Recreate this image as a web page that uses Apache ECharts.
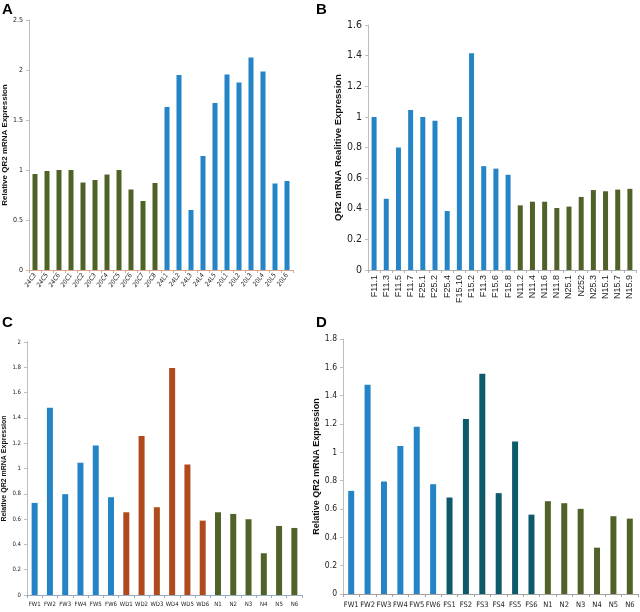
<!DOCTYPE html>
<html><head><meta charset="utf-8">
<script src="https://cdn.jsdelivr.net/npm/echarts@6/dist/echarts.min.js"></script>
<style>html,body{margin:0;padding:0;background:#fff}#c{width:640px;height:612px}</style>
</head><body><div id="c"></div>
<script>
// Panel A
const catsA = ['24C3','24C5','24C6','20C1','20C2','20C3','20C4','20C5','20C6','20C7','20C8','24L1','24L2','24L3','24L4','24L5','20L1','20L2','20L3','20L4','20L5','20L6'];
const valsA = [0.96,0.99,1.0,1.0,0.875,0.90,0.955,1.0,0.805,0.69,0.87,1.63,1.95,0.60,1.14,1.67,1.955,1.875,2.125,1.985,0.865,0.89];
const groupsA = [11, 11];
// Panel B
const catsB = ['F11.1','F11.3','F11.5','F11.7','F25.1','F25.2','F25.4','F15.10','F15.2','F11.3','F15.6','F15.8','N11.2','N11.4','N11.6','N11.8','N25.1','N252','N25.3','N15.1','N15.7','N15.9'];
const valsB = [1.0,0.465,0.80,1.045,1.0,0.975,0.385,1.0,1.415,0.678,0.662,0.622,0.422,0.446,0.446,0.405,0.414,0.477,0.522,0.514,0.525,0.53];
const groupsB = [12, 10];
// Panel C
const catsC = ['FW1','FW2','FW3','FW4','FW5','FW6','WD1','WD2','WD3','WD4','WD5','WD6','N1','N2','N3','N4','N5','N6'];
const valsC = [0.728,1.48,0.797,1.045,1.182,0.773,0.654,1.256,0.694,1.794,1.032,0.588,0.654,0.641,0.599,0.33,0.546,0.53];
const groupsC = [6, 6, 6];
// Panel D
const catsD = ['FW1','FW2','FW3','FW4','FW5','FW6','FS1','FS2','FS3','FS4','FS5','FS6','N1','N2','N3','N4','N5','N6'];
const valsD = [0.728,1.477,0.794,1.044,1.18,0.775,0.681,1.235,1.555,0.712,1.077,0.56,0.655,0.641,0.601,0.327,0.549,0.532];
const groupsD = [6, 6, 6];
const ticksA = {min:0, max:2.5, interval:0.5};
const ticksB = {min:0, max:1.6, interval:0.2};
const ticksC = {min:0, max:2, interval:0.2};
const ticksD = {min:0, max:1.8, interval:0.2};

const BLUE='#2484c6', GREEN='#4f6228', ORANGE='#b04a1c', TEAL='#0d5a6b';
const NARROW = '"DejaVu Sans Condensed","Liberation Sans Narrow","Liberation Sans",sans-serif';

function colored(vals, groups, colors){
  const out=[]; let gi=0, cnt=0;
  vals.forEach(v=>{ while(cnt>=groups[gi]){gi++;cnt=0;} out.push({value:v,itemStyle:{color:colors[gi]}}); cnt++; });
  return out;
}

const panels = [
  {grid:{left:29,top:20,width:264,height:250}, cats:catsA, vals:valsA, groups:groupsA, colors:[GREEN,BLUE], ticks:ticksA,
   name:'Relative QR2 mRNA Expression', nameSize:8, nameGap:20, ySize:7, yFont:NARROW,
   xLab:{rotate:55, fontSize:6.5, fontFamily:NARROW, margin:4, fontStyle:'italic'}, barW:5, xLine:'#d9a68c'},
  {grid:{left:368,top:25,width:268,height:245}, cats:catsB, vals:valsB, groups:groupsB, colors:[BLUE,GREEN], ticks:ticksB,
   name:'QR2 mRNA Realitive Expression', nameSize:9.5, nameGap:24, ySize:10.5, yFont:NARROW,
   xLab:{rotate:90, fontSize:9, fontFamily:'"Liberation Sans",Arial,sans-serif', margin:5}, barW:5, xLine:'#b0b0b0'},
  {grid:{left:26,top:342,width:276,height:253}, cats:catsC, vals:valsC, groups:groupsC, colors:[BLUE,ORANGE,GREEN], ticks:ticksC,
   name:'Relative QR2 mRNA Expression', nameSize:7, nameGap:19, ySize:6, yFont:NARROW,
   xLab:{rotate:0, fontSize:6, fontFamily:NARROW, margin:6}, barW:6, xLine:'#9aaac0'},
  {grid:{left:343,top:339,width:295,height:255}, cats:catsD, vals:valsD, groups:groupsD, colors:[BLUE,TEAL,GREEN], ticks:ticksD,
   name:'Relative QR2 mRNA Expression', nameSize:9, nameGap:19, ySize:8.5, yFont:NARROW,
   xLab:{rotate:0, fontSize:7.5, fontFamily:NARROW, margin:7}, barW:6, xLine:'#a0a0a0'}
];

const option = {animation:false, backgroundColor:'#fff', grid:[], xAxis:[], yAxis:[], series:[],
  graphic:[
    {type:'text',left:2,top:2,style:{text:'A',font:'bold 15px "Liberation Sans",Arial,sans-serif',fill:'#000'}},
    {type:'text',left:316,top:2,style:{text:'B',font:'bold 15px "Liberation Sans",Arial,sans-serif',fill:'#000'}},
    {type:'text',left:2,top:315,style:{text:'C',font:'bold 15px "Liberation Sans",Arial,sans-serif',fill:'#000'}},
    {type:'text',left:316,top:315,style:{text:'D',font:'bold 15px "Liberation Sans",Arial,sans-serif',fill:'#000'}}
  ]};

panels.forEach((p,i)=>{
  option.grid.push(p.grid);
  option.xAxis.push({type:'category', gridIndex:i, data:p.cats, boundaryGap:true,
    axisLine:{lineStyle:{color:p.xLine,width:1}},
    axisTick:{show:true, alignWithLabel:false, interval:0, length:3, lineStyle:{color:p.xLine}},
    axisLabel:Object.assign({interval:0, color:'#222'}, p.xLab)});
  option.yAxis.push({type:'value', gridIndex:i, min:p.ticks.min, max:p.ticks.max, interval:p.ticks.interval,
    name:p.name, nameLocation:'middle', nameGap:p.nameGap,
    nameTextStyle:{fontSize:p.nameSize, fontWeight:'bold', fontFamily:'"Liberation Sans",Arial,sans-serif', color:'#111'},
    axisLine:{show:true, lineStyle:{color:'#bdbdbd'}},
    axisTick:{show:true, length:3, lineStyle:{color:'#bdbdbd'}},
    splitLine:{show:false},
    axisLabel:{fontSize:p.ySize, fontFamily:p.yFont, color:'#222', margin:6}});
  option.series.push({type:'bar', xAxisIndex:i, yAxisIndex:i, barWidth:p.barW,
    data:colored(p.vals, p.groups, p.colors)});
});

const chart = echarts.init(document.getElementById('c'), null, {renderer:'canvas'});
chart.setOption(option);
</script></body></html>
